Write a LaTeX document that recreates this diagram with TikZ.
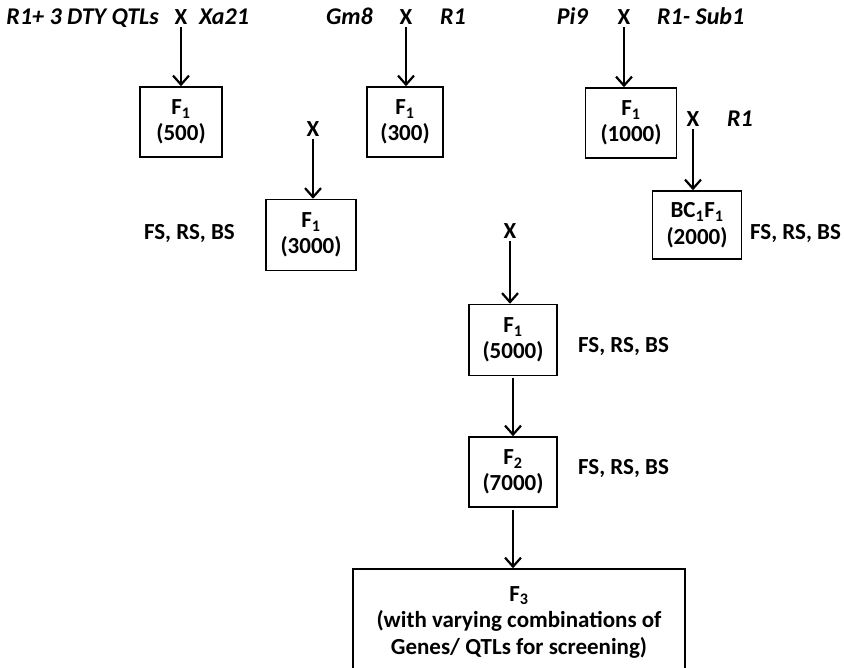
\documentclass[tikz,border=0pt]{standalone}
\usepackage{fontspec}
\setmainfont{Carlito}
\usetikzlibrary{arrows.meta}
\newcommand{\fsub}[1]{\textsubscript{#1}}
\tikzset{
  genbox/.style={draw, line width=1.5pt, align=center, minimum height=70pt, inner sep=2pt, font=\bfseries\fontsize{23}{26.5}\selectfont},
  plain/.style={font=\bfseries\fontsize{23}{26}\selectfont, inner sep=0pt},
  gene/.style={font=\bfseries\itshape\fontsize{24}{26}\selectfont, inner sep=0pt},
  cross/.style={-{Straight Barb[length=9pt,width=16pt,line width=2.2pt]}, line width=2.4pt, shorten <=2pt}
}

\begin{document}
\begin{tikzpicture}[x=1pt,y=-1pt]
  \useasboundingbox (0,0) rectangle (844,668);

  % first cross
  \node[gene, anchor=base east] (pa) at (159,25) {R1+ 3 DTY QTLs};
  \node[plain, anchor=base] (xa) at (181,25) {X};
  \node[gene, anchor=base west] (pb) at (199,25) {Xa21};
  \node[genbox, minimum width=82pt] (fa) at (181,122) {F\fsub{1}\\(500)};
  \draw[cross] (xa) -- (xa |- fa.north);

  % second cross
  \node[gene, anchor=base east] (pc) at (373,25) {Gm8};
  \node[plain, anchor=base] (xb) at (406,25) {X};
  \node[gene, anchor=base west] (pd) at (440,25) {R1};
  \node[genbox, minimum width=76pt] (fb) at (405,122) {F\fsub{1}\\(300)};
  \draw[cross] (xb) -- (xb |- fb.north);

  % third cross
  \node[gene, anchor=base east] (pe) at (588,25) {Pi9};
  \node[plain, anchor=base] (xc) at (624,25) {X};
  \node[gene, anchor=base west] (pf) at (657,25) {R1- Sub1};
  \node[genbox, minimum width=91pt] (fc) at (631,123) {F\fsub{1}\\(1000)};
  \draw[cross] (xc) -- (xc |- fc.north);

  % backcross
  \node[plain, anchor=base] (xd) at (693,127) {X};
  \node[gene, anchor=base west] (pg) at (727,127) {R1};
  \node[genbox, minimum width=89pt, minimum height=68pt] (bc) at (697,225) {BC\fsub{1}F\fsub{1}\\(2000)};
  \draw[cross] (xd) -- (xd |- bc.north);
  \node[plain, anchor=base west] (sa) at (750,240) {FS, RS, BS};

  % double cross
  \node[plain, anchor=base] (xe) at (313,137) {X};
  \node[genbox, minimum width=90pt, minimum height=71pt] (fd) at (311,235) {F\fsub{1}\\(3000)};
  \draw[cross] (xe) -- (xe |- fd.north);
  \node[plain, anchor=base east] (sb) at (235,240) {FS, RS, BS};

  % final cross
  \node[plain, anchor=base] (xf) at (510,239) {X};
  \node[genbox, minimum width=88pt, minimum height=71pt] (fe) at (513,340) {F\fsub{1}\\(5000)};
  \draw[cross] (xf) -- (xf |- fe.north);
  \node[plain, anchor=base west] (sc) at (578,353) {FS, RS, BS};

  \node[genbox, minimum width=88pt] (ff) at (513,472) {F\fsub{2}\\(7000)};
  \draw[cross] (fe) -- (ff);
  \node[plain, anchor=base west] (sd) at (578,474) {FS, RS, BS};

  \node[genbox, minimum width=332pt, minimum height=106pt] (fg) at (519,622) {F\fsub{3}\\(with varying combinations of\\Genes/ QTLs for screening)};
  \draw[cross] (ff) -- (ff |- fg.north);
\end{tikzpicture}
\end{document}
